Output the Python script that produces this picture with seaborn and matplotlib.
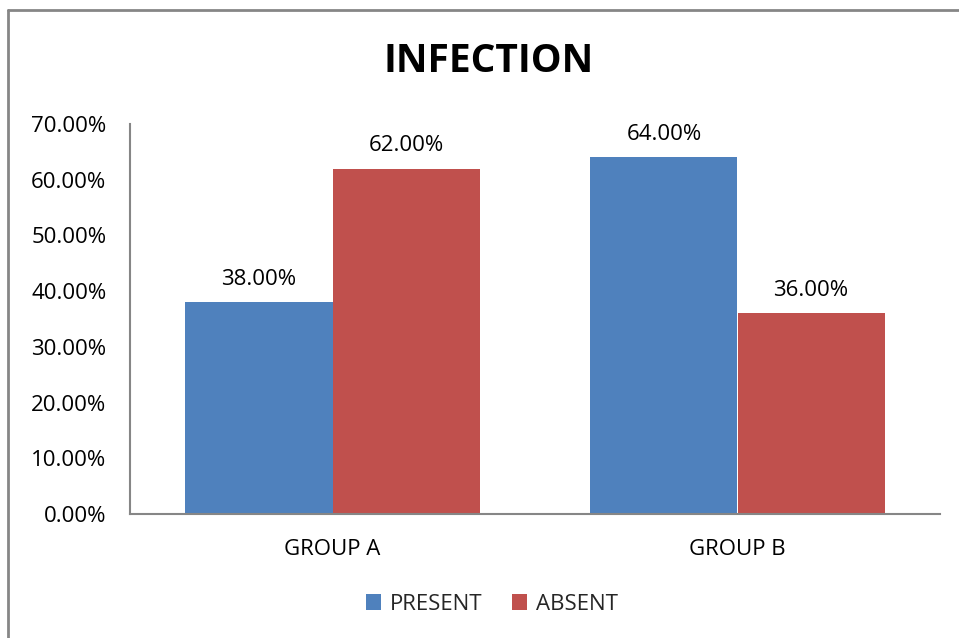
import matplotlib
matplotlib.use("Agg")
import matplotlib.pyplot as plt
from matplotlib.lines import Line2D
from matplotlib.ticker import FuncFormatter
import seaborn as sns
import pandas as pd

# Infection rates by group
groups = ["GROUP A", "GROUP B"]
status = ["PRESENT", "ABSENT"]
present = [38.0, 64.0]
absent = [62.0, 36.0]
colors = ["#4F81BD", "#C0504D"]

df = pd.DataFrame({
    "group": groups * 2,
    "status": [status[0]] * len(groups) + [status[1]] * len(groups),
    "value": present + absent,
})

sns.set_theme(style="white")
plt.rcParams["font.family"] = ["Open Sans", "DejaVu Sans"]

FS = 16

fig = plt.figure(figsize=(9.59, 6.38), dpi=100)
ax = fig.add_axes([130 / 959, 124 / 638, 810 / 959, 390 / 638])

sns.barplot(data=df, x="group", y="value", hue="status", hue_order=status,
            palette=colors, width=0.726, gap=0, saturation=1, ax=ax,
            edgecolor="none", linewidth=0)

ax.set_ylim(0, 70)
ax.set_yticks(range(0, 71, 10))
ax.yaxis.set_major_formatter(FuncFormatter(lambda v, p: f"{v:.2f}%"))
ax.set_xlabel("")
ax.set_ylabel("")
ax.tick_params(axis="both", length=0, labelsize=FS, colors="black")
ax.tick_params(axis="y", pad=17)
ax.tick_params(axis="x", pad=18)

for s in ["top", "right"]:
    ax.spines[s].set_visible(False)
for s in ["left", "bottom"]:
    ax.spines[s].set_color("#868686")
    ax.spines[s].set_linewidth(1.5)

for cont in ax.containers:
    ax.bar_label(cont, fmt="%.2f%%", padding=9, fontsize=FS, color="black")

handles, labels = ax.get_legend_handles_labels()
if ax.legend_:
    ax.legend_.remove()
fig.legend(handles, labels, loc="center", bbox_to_anchor=(492 / 959, 1 - 604 / 638),
           ncol=2, frameon=False, fontsize=FS, handlelength=0.7, handleheight=0.7,
           handletextpad=0.4, columnspacing=1.3)

fig.text(489 / 959, 1 - 62 / 638, "INFECTION", ha="center", va="center",
         fontsize=28, fontweight="bold", color="black")

# Chart frame (top and left edges)
fig.add_artist(Line2D([8 / 959, 1.0], [1 - 10 / 638] * 2, color="#868686", lw=2,
                      transform=fig.transFigure))
fig.add_artist(Line2D([8 / 959] * 2, [0.0, 1 - 10 / 638], color="#868686", lw=2,
                      transform=fig.transFigure))

fig.savefig("out.png", dpi=100)
